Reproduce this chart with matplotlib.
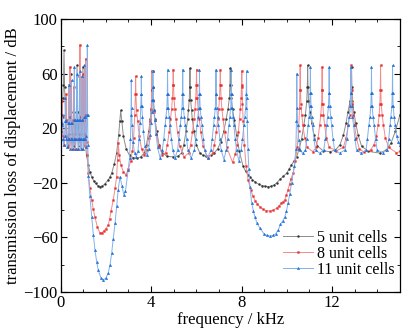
import matplotlib
matplotlib.use("Agg")
import matplotlib.pyplot as plt
from matplotlib.ticker import MultipleLocator, FixedLocator

# ---------------- data ----------------
labels = ["5 unit cells", "8 unit cells", "11 unit cells"]
x_ticks = [0, 4, 8, 12]
y_ticks = [-100, -60, -20, 20, 60, 100]
y_ticklabels = ['\u2212100', '\u221260', '\u221220', '20', '60', '100']

# (frequency kHz, transmission loss dB) points, 5 unit cells
gray_pts = [
    (0.0, 18), (0.05, 28), (0.1, 42), (0.13, 52), (0.155, 77), (0.18, 50), (0.22, 30), (0.28, 14),
    (0.33, 8), (0.38, 16), (0.42, 32), (0.45, 60), (0.48, 32), (0.53, 16), (0.6, 7), (0.65, 16),
    (0.7, 32), (0.73, 66), (0.76, 32), (0.81, 16), (0.87, 7), (0.92, 16), (0.96, 32), (0.99, 65),
    (1.02, 32), (1.07, 14), (1.15, 0), (1.23, -7), (1.3, -12), (1.38, -15.5), (1.46, -18.5),
    (1.55, -20.5), (1.64, -22), (1.74, -22.8), (1.85, -22.3), (1.95, -21), (2.1, -18), (2.18, -16),
    (2.26, -13), (2.38, -6), (2.48, 2), (2.57, 15), (2.62, 25), (2.66, 33),
    (2.71, 25), (2.78, 14), (2.9, 5), (3.05, 0), (3.2, -1.5), (3.38, -2), (3.55, -1), (3.7, 2),
    (3.8, 8), (3.9, 18), (3.97, 27), (4.0, 33), (4.04, 41), (4.055, 50), (4.07, 62), (4.085, 50),
    (4.1, 41), (4.14, 33), (4.17, 27), (4.25, 18), (4.35, 8), (4.5, 2), (4.7, -0.5), (4.97, -1),
    (5.2, -0.5), (5.35, 2), (5.45, 8), (5.55, 18), (5.62, 27), (5.65, 33), (5.69, 41), (5.705, 50),
    (5.72, 64), (5.735, 50), (5.75, 41), (5.79, 33), (5.82, 27), (5.9, 18), (6.0, 8), (6.15, 2),
    (6.3, 0), (6.45, -0.5), (6.65, 0), (6.8, 2), (6.95, 5), (7.08, 10), (7.22, 18), (7.32, 27),
    (7.4, 34), (7.46, 42), (7.485, 52), (7.5, 64), (7.515, 52), (7.54, 42), (7.6, 34), (7.68, 26),
    (7.78, 15), (7.9, 3), (8.07, -8), (8.18, -11.5), (8.28, -14), (8.37, -15.5), (8.48, -17.7),
    (8.6, -19.5), (8.75, -21), (8.9, -22), (9.05, -22.6), (9.17, -22.8), (9.3, -22.5), (9.45, -21.5),
    (9.57, -19.8), (9.69, -17.5), (9.85, -15.2), (9.99, -13), (10.1, -10), (10.2, -7), (10.32, -4),
    (10.43, -1), (10.55, 5),
    (10.65, 12), (10.75, 22), (10.82, 30), (10.88, 40), (10.905, 50), (10.92, 66), (10.935, 50),
    (10.96, 40), (11.02, 32), (11.1, 24), (11.2, 15), (11.35, 7), (11.6, 3.5), (11.9, 2.8),
    (12.15, 4), (12.35, 8), (12.5, 15), (12.62, 24), (12.7, 32), (12.8, 40), (12.845, 50),
    (12.86, 65), (12.875, 50), (12.9, 40), (12.96, 32), (13.04, 24), (13.15, 15), (13.3, 7),
    (13.6, 3), (14.1, 1.8), (14.4, 4), (14.6, 9), (14.8, 18), (15.0, 30),
]

# 8 unit cells
red_pts = [
    (0.0, 15), (0.04, 22), (0.065, 30), (0.08, 40), (0.095, 28), (0.125, 14), (0.165, 8), (0.2, 14),
    (0.228, 26), (0.245, 45), (0.262, 26), (0.29, 13), (0.33, 6), (0.37, 13), (0.4, 28), (0.42, 65),
    (0.44, 28), (0.47, 13), (0.5, 5), (0.535, 13), (0.563, 26), (0.58, 50), (0.597, 26), (0.625, 12),
    (0.65, 5), (0.675, 12), (0.703, 26), (0.72, 58), (0.737, 26), (0.765, 12), (0.79, 5), (0.815, 13),
    (0.843, 28), (0.86, 81), (0.877, 28), (0.905, 12), (0.93, 5), (0.955, 12), (0.983, 26), (1.0, 60),
    (1.017, 26), (1.045, 12), (1.065, 7), (1.09, 16), (1.108, 30), (1.12, 71), (1.132, 30), (1.15, 10),
    (1.19, 0), (1.23, -13), (1.3, -24), (1.38, -32.6), (1.45, -39.5), (1.52, -45), (1.63, -52.5),
    (1.74, -56.5), (1.82, -56.8), (1.9, -55.5), (2.0, -53.8), (2.11, -51), (2.17, -46.5),
    (2.23, -41), (2.33, -32.6), (2.41, -24), (2.48, -15.5), (2.52, -3), (2.55, 9),
    (2.6, 0), (2.67, -7), (2.78, -12), (2.89, -14), (3.0, -10), (3.1, -4), (3.17, 3), (3.23, 13),
    (3.28, 30), (3.308, 45), (3.32, 58), (3.332, 45), (3.36, 33), (3.41, 25), (3.48, 14), (3.58, 5),
    (3.7, 0.5), (3.8, 4), (3.9, 13), (3.96, 25), (4.005, 34), (4.028, 48), (4.04, 62), (4.052, 48),
    (4.075, 40), (4.12, 32), (4.17, 26), (4.24, 16), (4.34, 7), (4.5, 0.5), (4.65, 2), (4.72, 8),
    (4.8, 17), (4.86, 27), (4.91, 34), (4.945, 42), (4.968, 52), (4.98, 63), (4.992, 52), (5.015, 42),
    (5.05, 34), (5.1, 27), (5.17, 17), (5.27, 7), (5.45, -1), (5.68, 2), (5.75, 8), (5.83, 17),
    (5.9, 27), (5.94, 34), (5.975, 42), (5.998, 52), (6.01, 63), (6.022, 52), (6.045, 42), (6.08, 34),
    (6.13, 27), (6.2, 17), (6.3, 7), (6.5, -2), (6.73, 2), (6.8, 8), (6.88, 17), (6.95, 27),
    (6.99, 34), (7.025, 42), (7.048, 52), (7.06, 63), (7.072, 52), (7.095, 42), (7.13, 34), (7.18, 27),
    (7.25, 17), (7.35, 6), (7.6, -5), (7.72, 1), (7.8, 8), (7.86, 17), (7.91, 27), (7.945, 34),
    (7.978, 42), (7.998, 52), (8.01, 62), (8.022, 50), (8.04, 38), (8.07, 25), (8.12, 8), (8.2, -8),
    (8.29, -18), (8.4, -25), (8.51, -30), (8.6, -33), (8.7, -35.5), (8.82, -37.8), (8.95, -39.5),
    (9.1, -40.4), (9.25, -40.7), (9.4, -40.1), (9.55, -38.5), (9.65, -37), (9.75, -35),
    (9.83, -34), (9.91, -32.6), (9.98, -29), (10.05, -25), (10.12, -21), (10.18, -17),
    (10.28, -13), (10.38, -4), (10.46, 6.5),
    (10.52, 18), (10.56, 35), (10.578, 48), (10.59, 66), (10.602, 48), (10.625, 38), (10.66, 30),
    (10.71, 22), (10.79, 13), (10.9, 6), (11.15, 2.8), (11.3, 6), (11.38, 13), (11.45, 22), (11.5, 30),
    (11.535, 38), (11.55, 48), (11.56, 65), (11.57, 48), (11.585, 38), (11.62, 30), (11.67, 22),
    (11.75, 13), (11.87, 6), (12.19, 3.5), (12.5, 6), (12.62, 13), (12.71, 22), (12.77, 30),
    (12.81, 38), (12.836, 48), (12.85, 66), (12.864, 48), (12.89, 38), (12.93, 30), (12.99, 22),
    (13.07, 13), (13.2, 5), (13.4, 2.5), (13.7, 4), (13.85, 8), (13.95, 14), (14.03, 22), (14.08, 30),
    (14.11, 38), (14.128, 48), (14.14, 66), (14.152, 48), (14.17, 38), (14.21, 30), (14.27, 22),
    (14.35, 13), (14.5, 6), (14.84, 2), (15.0, 3),
]

# 11 unit cells
blue_pts = [
    (0.0, 12), (0.04, 18), (0.06, 24), (0.07, 30), (0.08, 22), (0.11, 12), (0.14, 8), (0.18, 14),
    (0.205, 25), (0.22, 42), (0.235, 25), (0.26, 12), (0.29, 6), (0.32, 12), (0.342, 24), (0.356, 52),
    (0.37, 24), (0.39, 12), (0.42, 5), (0.45, 12), (0.473, 24), (0.487, 55), (0.5, 24), (0.52, 12),
    (0.55, 5), (0.575, 12), (0.597, 26), (0.61, 65), (0.623, 26), (0.645, 12), (0.67, 5), (0.695, 12),
    (0.717, 26), (0.73, 60), (0.743, 26), (0.765, 12), (0.785, 5), (0.805, 12), (0.827, 26), (0.84, 62),
    (0.853, 26), (0.875, 12), (0.895, 5), (0.915, 12), (0.937, 26), (0.95, 58), (0.963, 26), (0.985, 12),
    (1.005, 5), (1.025, 12), (1.047, 28), (1.06, 66), (1.073, 28), (1.095, 12), (1.12, 6), (1.145, 14),
    (1.17, 30), (1.185, 81), (1.198, 30), (1.21, 8), (1.23, -15), (1.3, -30), (1.38, -45),
    (1.45, -58), (1.52, -69), (1.6, -78), (1.67, -84), (1.78, -89.5), (1.89, -91), (2.0, -90),
    (2.11, -86), (2.19, -80), (2.26, -71.6), (2.33, -61), (2.41, -49.7), (2.48, -37), (2.55, -25),
    (2.63, -15.5),
    (2.71, -22), (2.8, -29), (2.87, -26), (2.99, -10.6), (3.05, -2), (3.09, 12), (3.115, 30), (3.13, 55),
    (3.14, 35), (3.16, 22), (3.2, 10), (3.27, 2), (3.35, -1), (3.42, 3), (3.47, 12), (3.52, 24),
    (3.548, 36), (3.565, 45), (3.57, 58), (3.578, 45), (3.595, 36), (3.62, 28), (3.66, 18), (3.73, 7),
    (3.82, 0), (3.9, 5), (3.96, 15), (4.0, 24), (4.035, 32), (4.058, 41), (4.072, 50), (4.08, 62),
    (4.088, 50), (4.105, 41), (4.13, 33), (4.17, 26), (4.22, 16), (4.29, 6), (4.4, -2), (4.5, 4),
    (4.56, 12), (4.62, 22), (4.66, 28), (4.7, 35), (4.72, 45), (4.73, 63), (4.74, 45), (4.76, 35),
    (4.8, 28), (4.84, 22), (4.9, 12), (4.96, 4), (5.06, -2), (5.17, 4), (5.23, 12), (5.29, 22),
    (5.33, 28), (5.37, 35), (5.39, 45), (5.4, 63), (5.41, 45), (5.43, 35), (5.47, 28), (5.51, 22),
    (5.57, 12), (5.63, 4), (5.77, -2), (5.91, 4), (5.97, 12), (6.03, 22), (6.07, 28), (6.11, 35),
    (6.13, 45), (6.14, 63), (6.15, 45), (6.17, 35), (6.21, 28), (6.25, 22), (6.31, 12), (6.37, 4),
    (6.5, -2), (6.64, 4), (6.7, 12), (6.76, 22), (6.8, 28), (6.84, 35), (6.86, 45), (6.87, 63),
    (6.88, 45), (6.9, 35), (6.94, 28), (6.98, 22), (7.04, 12), (7.1, 4), (7.22, -3), (7.32, 4),
    (7.38, 12), (7.44, 22), (7.48, 28), (7.52, 35), (7.54, 45), (7.55, 63), (7.56, 45), (7.58, 35),
    (7.62, 28), (7.66, 22), (7.72, 12), (7.78, 4), (7.88, -4), (7.98, 4), (8.04, 12), (8.1, 22),
    (8.14, 28), (8.18, 35), (8.205, 45), (8.22, 62), (8.23, 42), (8.25, 25), (8.28, 5), (8.32, -10),
    (8.37, -23), (8.45, -35), (8.52, -40.5), (8.59, -45), (8.68, -49.5), (8.8, -53), (9.0, -57.5),
    (9.12, -58.6), (9.25, -59), (9.38, -58.6), (9.5, -57.5), (9.62, -54.5),
    (9.72, -50.5), (9.82, -48), (9.91, -45), (9.98, -41), (10.05, -35), (10.13, -28), (10.21, -20),
    (10.33, -8), (10.4, 5), (10.425, 25),
    (10.44, 60), (10.455, 35), (10.48, 22), (10.53, 11), (10.6, 4), (10.7, 1.5), (10.82, 4),
    (10.88, 12), (10.94, 22), (10.98, 28), (11.01, 36), (11.03, 46), (11.04, 65), (11.05, 46),
    (11.07, 36), (11.1, 28), (11.14, 22), (11.2, 12), (11.27, 4), (11.45, 1.8), (11.63, 4), (11.7, 12),
    (11.76, 22), (11.8, 28), (11.84, 36), (11.86, 46), (11.87, 65), (11.88, 46), (11.9, 36), (11.94, 28),
    (11.98, 22), (12.04, 12), (12.11, 4), (12.34, 1.8), (12.57, 4), (12.64, 12), (12.71, 22), (12.76, 28),
    (12.8, 36), (12.82, 46), (12.83, 65), (12.84, 46), (12.86, 36), (12.9, 28), (12.95, 22), (13.01, 12),
    (13.08, 4), (13.29, 1.8), (13.5, 4), (13.56, 12), (13.62, 22), (13.67, 28), (13.71, 36), (13.73, 46),
    (13.74, 65), (13.75, 46), (13.77, 36), (13.81, 28), (13.86, 22), (13.92, 12), (13.99, 4), (14.24, 2),
    (14.43, 4), (14.5, 12), (14.56, 22), (14.6, 28), (14.64, 36), (14.66, 46), (14.67, 66), (14.68, 46),
    (14.7, 36), (14.74, 28), (14.79, 22), (14.85, 14), (14.93, 10), (15.0, 8),
]

gray_f, gray_tl = zip(*gray_pts)
red_f, red_tl = zip(*red_pts)
blue_f, blue_tl = zip(*blue_pts)

# ---------------- styling ----------------
plt.rcParams['font.family'] = ['Liberation Serif', 'DejaVu Serif']
plt.rcParams['font.size'] = 12

fig = plt.figure(figsize=(4.19, 3.32), dpi=100)
ax = fig.add_axes([60.5/419, 1 - 292/332, (400 - 60.5)/419, (292 - 19)/332])

series = [
    (gray_f, gray_tl, '#8c8c8c', '#353535', 'o', 1.4),
    (red_f, red_tl, '#f38b8b', '#e8302e', 's', 1.3),
    (blue_f, blue_tl, '#82b2ec', '#1f6ed8', '^', 1.7),
]
for (f, tl, lc, mc, mk, ms), lab in zip(series, labels):
    ax.plot(f, tl, color=lc, lw=0.7, marker=mk, ms=ms, mfc=mc, mec=mc, mew=0.3, label=lab)

ax.set_xlim(0, 15)
ax.set_ylim(-100, 100)
ax.xaxis.set_major_locator(FixedLocator(x_ticks))
ax.xaxis.set_minor_locator(MultipleLocator(1))
ax.yaxis.set_major_locator(FixedLocator(y_ticks))
ax.yaxis.set_minor_locator(MultipleLocator(20))
ax.set_yticklabels(y_ticklabels)
ax.tick_params(which='both', direction='in', top=True, right=True, labelsize=12)
ax.tick_params(which='major', length=4, width=0.8)
ax.tick_params(which='minor', length=2.5, width=0.6)
ax.tick_params(axis='x', pad=2)
ax.tick_params(axis='y', pad=2)
for s in ax.spines.values():
    s.set_linewidth(0.9)

ax.set_xlabel('frequency / kHz', fontsize=12, labelpad=1)
ax.set_ylabel('transmission loss of displacement / dB', fontsize=12, labelpad=2)

leg = ax.legend(loc='center left', bbox_to_anchor=((283 - 60.5) / 339.5, (292 - 254) / 273),
                frameon=False, fontsize=11.5, handlelength=1.85, numpoints=1,
                handletextpad=0.25, labelspacing=0.0, borderpad=0, borderaxespad=0)

fig.savefig('out.png', dpi=100)
